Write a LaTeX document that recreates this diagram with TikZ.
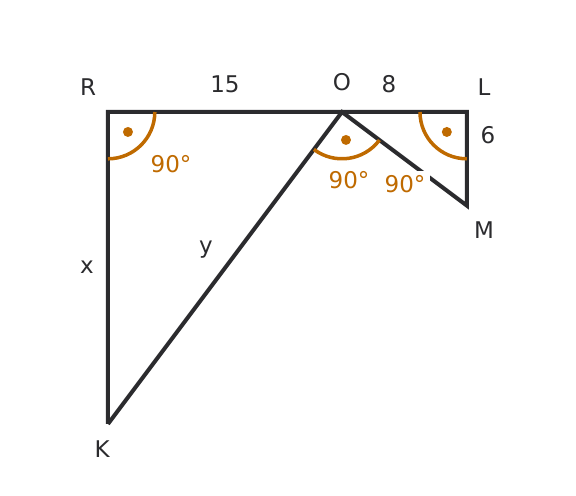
\documentclass[tikz,border=0pt]{standalone}
\usepackage{fontspec}
\setmainfont{DejaVu Sans}
\definecolor{angcol}{HTML}{BF6A00}
\definecolor{segcol}{HTML}{2B2B2E}
\begin{document}
\begin{tikzpicture}[line cap=butt,line join=miter,x=15.6bp,y=15.6bp,font=\fontsize{23bp}{27bp}\selectfont]
		\useasboundingbox (-6.923,-24.615) rectangle (30.0,7.179);
		\coordinate (R) at (0,0);
		\coordinate (O) at (15,0);
		\coordinate (L) at (23,0);
		\coordinate (M) at (23,-6);
		\coordinate (K) at (0,-20);
		\draw [line width=4bp,color=segcol] (K)-- (R)-- (L)-- (M)-- (O)-- (K);
		\draw [line width=3.5bp,color=angcol] (R) ++(3,0) arc (0:-90:3);
		\draw [line width=3.5bp,color=angcol] (L) ++(-3,0) arc (180:270:3);
		\draw [line width=3.5bp,color=angcol] (O) ++(-126.87:3) arc (-126.87:-36.87:3);
		\fill [color=angcol] (R) ++(-45:1.81) circle (5bp);
		\fill [color=angcol] (L) ++(-135:1.81) circle (5bp);
		\fill [color=angcol] (O) ++(-81.87:1.81) circle (5bp);
		\node[color=angcol] (angR) at (4.04,-3.33) {90°};
		\node[color=angcol] (angO) at (15.45,-4.36) {90°};
		\node[color=angcol,fill=white,inner sep=4.5bp] (angM) at (19.04,-4.62) {90°};
		\node[color=segcol] (labR) at (-1.28,1.62) {R};
		\node[color=segcol] (labO) at (15,1.94) {O};
		\node[color=segcol] (labL) at (24.1,1.62) {L};
		\node[color=segcol] (labM) at (24.1,-7.56) {M};
		\node[color=segcol] (labK) at (-0.38,-21.62) {K};
		\node[color=segcol] (labRO) at (7.5,1.76) {15};
		\node[color=segcol] (labOL) at (18.01,1.76) {8};
		\node[color=segcol] (labLM) at (24.36,-1.47) {6};
		\node[color=segcol] (labRK) at (-1.35,-9.94) {x};
		\node[color=segcol] (labOK) at (6.28,-8.85) {y};
	\end{tikzpicture}
\end{document}
